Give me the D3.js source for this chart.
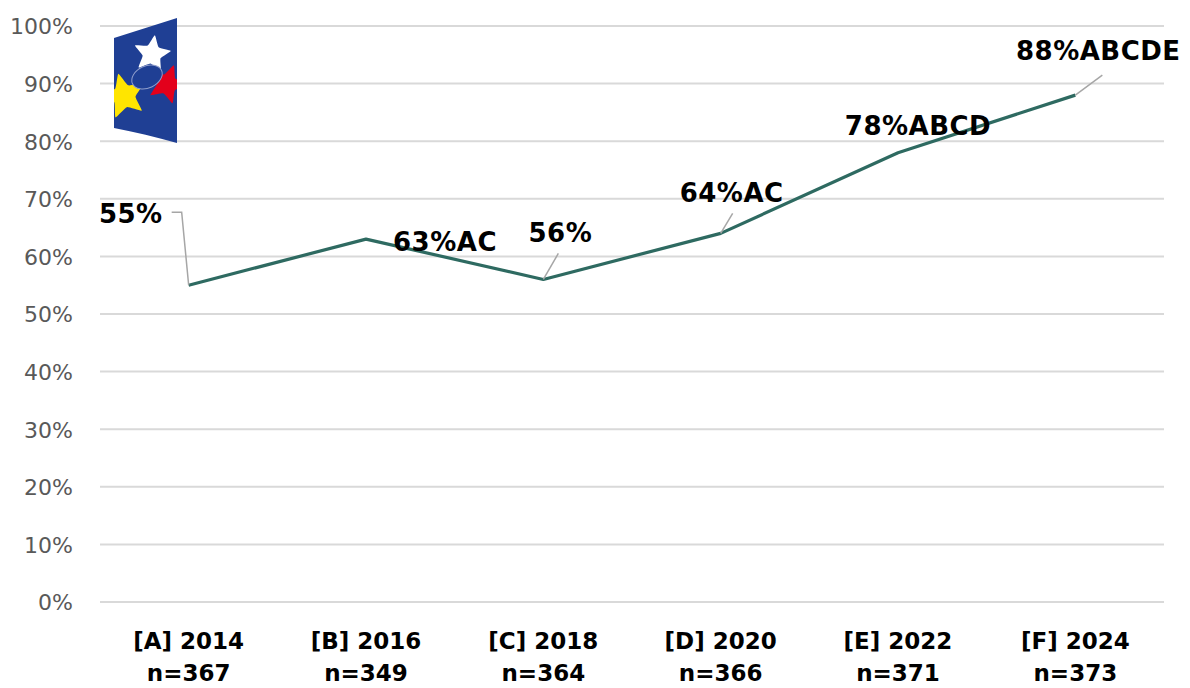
<!DOCTYPE html>
<html>
<head>
<meta charset="utf-8">
<script src="https://cdn.jsdelivr.net/npm/d3@7/dist/d3.min.js"></script>
<style>
  html, body { margin: 0; padding: 0; background: #ffffff; }
  svg { display: block; }
</style>
</head>
<body>
<svg id="chart" width="1190" height="688"></svg>
<script>
// Survey waves and their sample sizes
const waves = ["[A] 2014", "[B] 2016", "[C] 2018", "[D] 2020", "[E] 2022", "[F] 2024"];
const sampleSizes = ["n=367", "n=349", "n=364", "n=366", "n=371", "n=373"];
// Share of respondents (%) per wave
const shares = [55, 63, 56, 64, 78, 88];
// Significance letters attached to each value label
const sigLetters = ["", "AC", "", "AC", "ABCD", "ABCDE"];
// Y axis ticks
const yTicks = [0, 10, 20, 30, 40, 50, 60, 70, 80, 90, 100];

// Label placement relative to its point: text offset, anchor, optional leader elbow
const labelLayout = [
  { dx: -26, dy: -62, anchor: "end", leader: [[-7, -73], [-17, -73]] },
  { dx: 79, dy: 12, anchor: "middle", leader: null },
  { dx: 17, dy: -37, anchor: "middle", leader: [[15, -26]] },
  { dx: 11, dy: -31, anchor: "middle", leader: [[12, -20]] },
  { dx: 20, dy: -18, anchor: "middle", leader: null },
  { dx: 23, dy: -35, anchor: "middle", leader: [[27, -20]] }
];

const svg = d3.select("#chart");
const plot = { left: 100, right: 1164, top: 26, bottom: 602 };

const x = d3.scaleBand().domain(waves).range([plot.left, plot.right]).padding(0);
const y = d3.scaleLinear().domain([0, 100]).range([plot.bottom, plot.top]);
const cx = d => x(d) + x.bandwidth() / 2;

// Horizontal gridlines
svg.append("g")
  .selectAll("line")
  .data(yTicks)
  .join("line")
  .attr("x1", plot.left).attr("x2", plot.right)
  .attr("y1", d => y(d)).attr("y2", d => y(d))
  .attr("stroke", "#d9d9d9")
  .attr("stroke-width", 2);

// Y axis labels
const yAxis = svg.append("g")
  .attr("transform", `translate(${plot.left - 27},0)`)
  .call(d3.axisLeft(y).tickValues(yTicks).tickSize(0).tickPadding(0).tickFormat(d => d + "%"));
yAxis.select(".domain").remove();
yAxis.selectAll("text")
  .attr("fill", "#595959")
  .attr("font-family", "'DejaVu Sans', sans-serif")
  .attr("font-size", 22)
  .attr("dy", "0.36em");

// X axis labels (two lines: wave and sample size)
const xAxis = svg.append("g")
  .attr("transform", `translate(0,${plot.bottom})`)
  .call(d3.axisBottom(x).tickSize(0).tickFormat(""));
xAxis.select(".domain").remove();
const xLab = svg.append("g")
  .selectAll("text")
  .data(waves)
  .join("text")
  .attr("text-anchor", "middle")
  .attr("font-family", "'DejaVu Sans', sans-serif")
  .attr("font-weight", "bold")
  .attr("font-size", 23)
  .attr("fill", "#000");
xLab.append("tspan").attr("x", d => cx(d)).attr("y", 649).text(d => d);
xLab.append("tspan").attr("x", d => cx(d)).attr("y", 681).text((d, i) => sampleSizes[i]);

// Emblem in the upper-left corner
const logo = svg.append("g");
const flagPath = "M114,38 C135,31 156,25 177,18 L177,143 C156,137 135,132 114,128 Z";
logo.append("clipPath").attr("id", "flagClip").append("path").attr("d", flagPath);
logo.append("path").attr("d", flagPath).attr("fill", "#1f3f94");
const star = (cxp, cyp, r, rot) => {
  const pts = [];
  for (let k = 0; k < 10; k++) {
    const a = rot + k * Math.PI / 5 - Math.PI / 2;
    const rr = k % 2 === 0 ? r : r * 0.5;
    pts.push([cxp + rr * Math.cos(a), cyp + rr * Math.sin(a)]);
  }
  return d3.line().curve(d3.curveCardinalClosed.tension(0.6))(pts);
};
const stars = logo.append("g").attr("clip-path", "url(#flagClip)");
stars.append("path").attr("d", star(167, 84, 20, 0.35)).attr("fill", "#e3001b");
stars.append("path").attr("d", star(124, 96, 23, -0.25)).attr("fill", "#ffe500");
stars.append("path").attr("d", star(152, 54, 19, 0.15)).attr("fill", "#ffffff");
stars.append("ellipse")
  .attr("cx", 147).attr("cy", 77).attr("rx", 16).attr("ry", 11)
  .attr("transform", "rotate(-25,147,77)")
  .attr("fill", "#1f3f94").attr("stroke", "#8f9dcc").attr("stroke-width", 1);

// Trend line
svg.append("path")
  .datum(shares)
  .attr("fill", "none")
  .attr("stroke", "#2e6a61")
  .attr("stroke-width", 3.2)
  .attr("stroke-linejoin", "round")
  .attr("d", d3.line().x((d, i) => cx(waves[i])).y(d => y(d)));

// Leader lines from points to their labels
const leaders = svg.append("g");
shares.forEach((v, i) => {
  const L = labelLayout[i];
  if (!L.leader) return;
  const px = cx(waves[i]), py = y(v);
  const pts = [[px, py]].concat(L.leader.map(p => [px + p[0], py + p[1]]));
  leaders.append("path")
    .attr("d", d3.line()(pts))
    .attr("fill", "none")
    .attr("stroke", "#a6a6a6")
    .attr("stroke-width", 1.5);
});

// Value labels
svg.append("g")
  .selectAll("text")
  .data(shares)
  .join("text")
  .attr("x", (d, i) => cx(waves[i]) + labelLayout[i].dx)
  .attr("y", (d, i) => y(d) + labelLayout[i].dy)
  .attr("text-anchor", (d, i) => labelLayout[i].anchor)
  .attr("font-family", "'DejaVu Sans', sans-serif")
  .attr("font-weight", "bold")
  .attr("font-size", 26)
  .attr("letter-spacing", 0.5)
  .attr("fill", "#000")
  .text((d, i) => d + "%" + sigLetters[i]);
</script>
</body>
</html>
